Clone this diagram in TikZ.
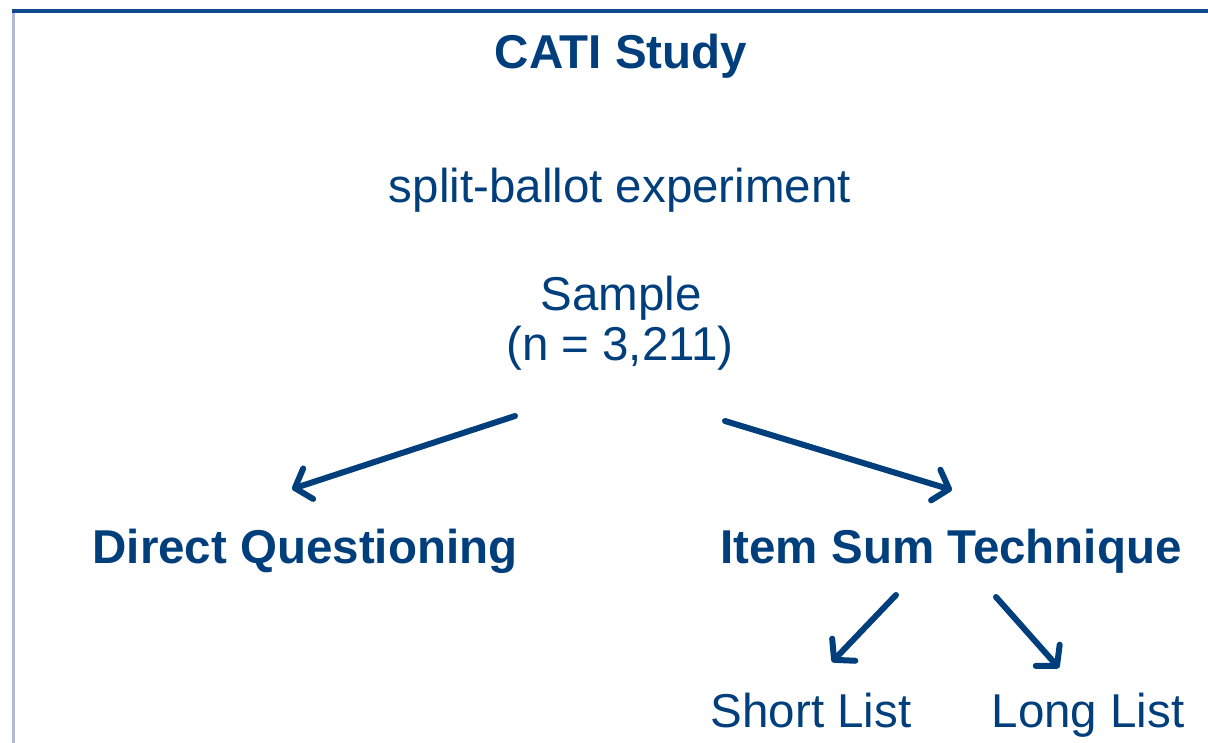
\documentclass[tikz,border=0pt]{standalone}
\usepackage{fontspec}
\setmainfont{Liberation Sans}
\usetikzlibrary{arrows,arrows.meta,calc}

\definecolor{studyblue}{RGB}{0,62,124}
\definecolor{rulebar}{RGB}{14,74,140}
\definecolor{sidebar}{RGB}{178,185,218}

\tikzset{
  lbl/.style={text=studyblue, inner sep=0pt, anchor=base, font=\fontsize{47.5}{56}\selectfont},
  boldlbl/.style={lbl, font=\fontsize{47.5}{56}\selectfont\bfseries},
  splitarrow/.style={draw=studyblue, line width=6pt, line cap=round, line join=round,
    -{Straight Barb[length=14pt,width=32pt,line cap=round,line join=round]}}
}

\begin{document}
\begin{tikzpicture}[x=1pt,y=-1pt]
\useasboundingbox (0,0) rectangle (1208,743);

\draw [sidebar, line width=3.5pt] (13.5,13) -- (13.5,743);
\draw [rulebar, line width=4pt] (12,11.5) -- (1208,11.5);

\node[boldlbl] (cati) at (621,69) {CATI Study};
\node[lbl] (split) at (620,203) {split-ballot experiment};
\node[lbl] (sample) at (621,311) {Sample};
\node[lbl] (samplen) at (620,360) {(n = 3,211)};
\node[boldlbl] (direct) at (305,563) {Direct Questioning};
\node[boldlbl] (itemsum) at (951,563) {Item Sum Technique};
\node[lbl] (short) at (811,727) {Short List};
\node[lbl] (long) at (1088,727) {Long List};

\coordinate[] (A) at (515,416);
\coordinate[] (B) at (292,489);
\coordinate[] (C) at (725,421);
\coordinate[] (D) at (952,490);
\coordinate[] (E) at (896,595);
\coordinate[] (F) at (832,662);
\coordinate[] (G) at (996,597);
\coordinate[] (H) at (1059,668);

\draw [splitarrow] (A) -- (B);
\draw [splitarrow] (C) -- (D);
\draw [splitarrow] (E) -- (F);
\draw [splitarrow] (G) -- (H);

\end{tikzpicture}
\end{document}
